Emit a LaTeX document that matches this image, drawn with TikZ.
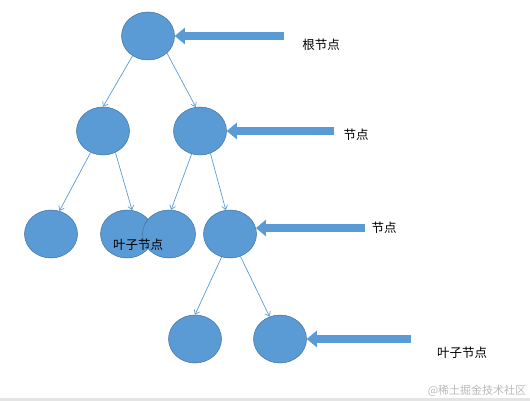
\documentclass[tikz,border=0pt]{standalone}
\usepackage{fontspec}
\newfontfamily\cjk{Noto Sans CJK SC}
\usetikzlibrary{shapes.geometric,arrows.meta}
\definecolor{nodeblue}{RGB}{91,155,213}
\definecolor{nodeedge}{RGB}{65,113,156}
\definecolor{wmgray}{RGB}{185,185,185}
\definecolor{bargray}{RGB}{228,228,228}
\tikzset{
  tnode/.style={ellipse,fill=nodeblue,draw=nodeedge,line width=0.5pt,minimum width=53pt,minimum height=48pt,inner sep=0pt},
  link/.style={draw=nodeblue,line width=0.7pt,-{Straight Barb[length=4pt,width=6pt]}},
  bigarrow/.style={draw=nodeblue,line width=8pt,-{Triangle[length=10pt,width=16pt]}},
  lbl/.style={font=\cjk\fontsize{12.5}{14}\selectfont,inner sep=0pt},
}
\begin{document}
\begin{tikzpicture}[x=1pt,y=-1pt]
\useasboundingbox (0,0) rectangle (530,401);
\fill[bargray] (0,398) rectangle (530,401);
% nodes
\node[tnode] (r) at (148,36) {};
\node[tnode] (a) at (103,131) {};
\node[tnode] (b) at (200,131) {};
\node[tnode] (c1) at (51,234) {};
\node[tnode] (c2) at (127,234) {};
\node[tnode] (c3) at (169,234) {};
\node[tnode] (c4) at (230,234) {};
\node[tnode] (d1) at (195,339) {};
\node[tnode] (d2) at (280,339) {};
% labels
\node[lbl] (t1) at (321,45) {根节点};
\node[lbl] (t2) at (356,135) {节点};
\node[lbl] (t3) at (138,245) {叶子节点};
\node[lbl] (t4) at (384,228) {节点};
\node[lbl] (t5) at (462,353) {叶子节点};
\node[font=\cjk\fontsize{11}{13}\selectfont,text=wmgray,inner sep=0pt] (wm) at (477,391) {@稀土掘金技术社区};
% connectors
\draw[link] (r.232) -- (a.north);
\draw[link] (r.318) -- (b.100);
\draw[link] (a.240) -- (c1.70);
\draw[link] (a.300) -- (c2.78);
\draw[link] (b.250) -- (c3.85);
\draw[link] (b.295) -- (c4.100);
\draw[link] (c4.250) -- (d1.north);
\draw[link] (c4.295) -- (d2.115);
% pointer arrows
\coordinate (p1) at (r.east -| 284,0);
\coordinate (p2) at (b.east -| 334,0);
\coordinate (p3) at (c4.13 -| 365,0);
\coordinate (p4) at (d2.east -| 411,0);
\draw[bigarrow] (p1) -- (r.east);
\draw[bigarrow] (p2) -- (b.east);
\draw[bigarrow] (p3) -- (c4.13);
\draw[bigarrow] (p4) -- (d2.east);
\end{tikzpicture}
\end{document}
